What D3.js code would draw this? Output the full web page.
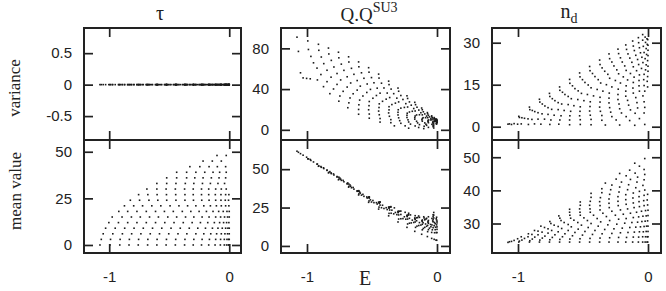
<!DOCTYPE html>
<html>
<head>
<meta charset="utf-8">
<script src="https://cdn.jsdelivr.net/npm/d3@7"></script>
<style>
  body { margin: 0; background: #fff; }
  svg { display: block; }
</style>
</head>
<body>
<svg id="chart" width="666" height="291"></svg>
<script>
// one row per seniority tau, one entry per eigenstate (energy E)
const tauLevels = [0, 3, 6, 9, 12, 15, 18, 21, 24, 27, 30, 33, 36, 39, 42, 45, 48];

const energies = [
  [-1.077,-0.994,-0.912,-0.835,-0.758,-0.680,-0.603,-0.526,-0.449,-0.372,-0.300,-0.231,-0.171,-0.118,-0.074,-0.041,-0.022,-0.008,-0.002],
  [-1.066,-0.989,-0.909,-0.832,-0.755,-0.678,-0.601,-0.523,-0.446,-0.369,-0.295,-0.226,-0.165,-0.113,-0.072,-0.041,-0.019,-0.006,0],
  [-1.050,-0.970,-0.890,-0.813,-0.736,-0.658,-0.581,-0.504,-0.427,-0.353,-0.278,-0.212,-0.154,-0.105,-0.066,-0.036,-0.014,0],
  [-1.030,-0.950,-0.871,-0.793,-0.716,-0.639,-0.562,-0.485,-0.408,-0.333,-0.262,-0.198,-0.140,-0.094,-0.058,-0.030,-0.011,0],
  [-1.003,-0.923,-0.846,-0.769,-0.691,-0.614,-0.537,-0.460,-0.383,-0.309,-0.240,-0.179,-0.124,-0.080,-0.047,-0.022,-0.003],
  [-0.975,-0.893,-0.815,-0.741,-0.664,-0.590,-0.512,-0.438,-0.364,-0.295,-0.226,-0.168,-0.113,-0.072,-0.039,-0.014,0],
  [-0.920,-0.846,-0.769,-0.691,-0.614,-0.540,-0.466,-0.391,-0.320,-0.251,-0.190,-0.135,-0.088,-0.050,-0.019,0],
  [-0.873,-0.796,-0.722,-0.645,-0.570,-0.493,-0.419,-0.347,-0.278,-0.212,-0.157,-0.107,-0.066,-0.030,-0.003],
  [-0.824,-0.747,-0.669,-0.595,-0.521,-0.444,-0.369,-0.298,-0.229,-0.168,-0.113,-0.069,-0.033,-0.006],
  [-0.755,-0.678,-0.601,-0.523,-0.446,-0.369,-0.300,-0.231,-0.171,-0.116,-0.069,-0.030,-0.003],
  [-0.686,-0.603,-0.526,-0.449,-0.372,-0.300,-0.231,-0.171,-0.113,-0.066,-0.025],
  [-0.603,-0.521,-0.444,-0.366,-0.295,-0.223,-0.157,-0.094,-0.039],
  [-0.521,-0.438,-0.355,-0.287,-0.218,-0.149,-0.085,-0.030],
  [-0.438,-0.355,-0.278,-0.204,-0.135,-0.080,-0.025],
  [-0.328,-0.245,-0.168,-0.099,-0.030],
  [-0.218,-0.141,-0.066],
  [-0.102,-0.025]
];

// tau is a good quantum number: its variance is zero everywhere
const tauVariance = 0;

const qqVariance = [
  [91.0,87.3,84.0,80.3,76.2,71.7,66.7,61.0,54.7,47.8,41.0,33.4,27.0,21.4,16.9,13.7,12.0,10.7,10.2],
  [77.0,78.9,78.1,74.5,70.7,66.6,61.9,56.6,50.8,44.4,37.9,30.8,24.7,19.7,15.7,12.9,11.1,10.0,9.5],
  [56.0,72.1,71.5,68.2,64.5,60.4,56.0,51.3,45.8,40.0,33.7,27.4,22.2,17.7,14.3,11.8,10.1,9.0],
  [51.0,65.8,65.0,61.7,58.4,54.5,50.6,46.2,41.1,35.5,29.8,24.2,19.4,15.6,12.7,10.7,9.3,8.5],
  [50.5,60.6,58.5,55.3,52.1,48.4,45.0,40.9,36.1,31.1,25.7,20.9,16.8,13.5,11.1,9.5,8.2],
  [50.1,54.3,51.7,49.0,46.0,42.9,39.7,36.0,31.7,27.4,22.4,18.5,14.7,11.9,9.8,8.4,7.5],
  [49.0,47.3,44.6,42.0,39.0,36.7,33.7,30.1,26.2,22.0,18.2,14.8,11.9,9.7,8.0,7.0],
  [42.4,40.1,37.8,35.4,33.2,31.0,28.0,24.8,21.3,17.5,14.6,11.9,9.7,7.9,6.7],
  [35.5,33.2,31.3,29.2,27.8,25.5,22.7,19.7,16.3,13.6,11.0,8.9,7.4,6.2],
  [28.1,26.5,24.6,23.7,21.9,19.6,17.2,14.3,12.1,9.9,8.0,6.5,5.6],
  [21.7,20.0,19.7,18.4,16.6,14.6,12.1,10.5,8.5,7.0,5.7],
  [15.3,15.5,14.8,13.3,11.8,9.8,8.4,6.8,5.4],
  [11.4,11.1,10.0,9.0,7.7,6.8,5.5,4.5],
  [7.6,7.0,6.4,5.6,5.1,4.4,3.8],
  [3.9,3.9,3.8,3.5,3.1],
  [1.6,2.3,2.4],
  [1.2,1.8]
];

const qqMean = [
  [61.7,56.7,51.9,47.6,43.1,38.3,33.2,28.4,24.0,19.6,15.6,12.1,9.5,7.6,6.1,4.9,4.3,3.8,3.7],
  [61.0,56.7,52.1,47.9,43.5,38.8,33.9,29.3,25.3,21.2,17.5,14.3,12.1,10.5,9.3,8.8,8.6,8.7,8.7],
  [60.1,55.7,51.2,47.1,42.7,37.9,33.1,28.6,24.9,21.3,17.7,14.8,12.9,11.4,10.6,10.5,10.6,10.8],
  [59.1,54.7,50.4,46.2,41.8,37.0,32.3,28.2,24.4,20.9,17.8,15.0,13.3,12.1,11.6,11.9,12.2,12.4],
  [57.8,53.3,49.2,44.9,40.4,35.6,31.2,27.3,23.7,20.4,17.4,15.3,13.6,12.8,12.5,13.2,13.7],
  [56.3,51.7,47.6,43.5,38.9,34.4,30.0,26.6,23.4,20.2,17.5,15.6,14.1,13.4,13.7,14.5,15.0],
  [53.3,49.4,45.2,40.7,35.9,31.9,28.2,24.9,21.8,19.0,16.8,15.2,14.3,14.0,15.3,16.1],
  [50.9,46.9,42.7,38.1,33.6,29.6,26.5,23.3,20.5,18.0,16.4,15.1,14.8,15.7,16.9],
  [48.4,44.2,39.7,35.1,31.2,27.8,24.6,21.7,19.1,17.2,15.9,15.4,16.3,17.7],
  [44.8,40.3,35.6,31.5,28.1,24.9,22.1,19.6,17.8,16.4,16.0,17.2,18.7],
  [41.0,35.9,31.8,28.5,25.3,22.5,20.0,18.2,16.9,16.6,18.2],
  [36.0,31.8,28.5,25.4,22.6,20.1,18.3,17.0,17.9],
  [31.9,28.4,25.3,22.6,20.3,18.5,17.5,19.1],
  [28.7,25.6,22.7,20.2,18.6,18.0,20.1],
  [24.8,21.9,19.7,18.2,20.3],
  [21.3,19.5,19.0],
  [19.0,21.8]
];

const ndVariance = [
  [0.9,3.7,7.0,9.8,11.9,14.2,16.9,19.2,21.5,23.8,26.0,27.7,29.2,30.6,31.8,32.9,32.0,31.4,31.1],
  [1.0,3.3,6.1,8.8,10.8,13.0,15.5,17.8,20.0,22.2,24.3,26.1,27.6,28.8,30.0,30.9,30.1,29.4,29.1],
  [0.8,3.2,5.8,8.1,10.0,12.3,14.6,16.8,19.0,21.0,23.1,24.6,26.0,27.2,28.2,28.7,27.9,27.3],
  [1.1,3.0,5.4,7.4,9.3,11.5,13.6,15.8,17.9,19.8,21.7,23.1,24.5,25.5,26.4,26.5,25.8,25.4],
  [0.9,2.8,5.0,6.8,8.6,10.8,12.8,14.9,16.8,18.7,20.3,21.7,23.0,24.0,24.8,24.3,23.6],
  [1.0,2.6,4.6,6.2,8.1,10.0,11.9,13.9,15.6,17.3,18.9,20.1,21.4,22.2,22.9,22.1,21.6],
  [0.8,2.7,4.4,6.1,7.9,9.7,11.5,13.3,15.0,16.5,17.8,19.0,20.0,20.8,20.3,19.8],
  [1.0,2.7,4.1,5.8,7.5,9.3,11.0,12.7,14.2,15.6,16.7,17.7,18.5,18.7,17.9],
  [0.9,2.4,3.9,5.5,7.1,8.9,10.5,12.0,13.4,14.6,15.8,16.5,16.8,16.2],
  [0.8,2.4,3.9,5.5,7.2,8.8,10.2,11.5,12.7,13.8,14.6,14.7,14.2],
  [0.9,2.4,3.9,5.6,7.0,8.5,9.7,10.9,12.0,12.7,12.7],
  [0.7,2.5,4.1,5.5,6.8,8.1,9.4,10.4,11.0],
  [0.8,2.6,4.0,5.2,6.4,7.7,8.6,8.9],
  [0.7,2.3,3.6,4.9,6.0,6.7,6.9],
  [0.6,2.4,3.6,4.8,4.9],
  [0.6,2.2,2.9],
  [0.5,0.8]
];

const ndMean = [
  [24.3,24.4,24.4,24.4,24.4,24.4,24.4,24.4,24.4,24.4,24.4,24.4,24.4,24.4,24.4,24.4,24.4,24.4,24.4],
  [24.5,24.7,24.8,25.0,25.1,25.2,25.3,25.4,25.5,25.6,25.7,25.8,25.8,25.9,25.9,26.0,26.0,26.0,26.0],
  [24.6,25.0,25.3,25.6,25.8,26.0,26.3,26.5,26.7,26.9,27.0,27.2,27.3,27.4,27.5,27.5,27.6,27.6],
  [24.9,25.5,25.9,26.2,26.6,26.9,27.3,27.6,27.9,28.2,28.4,28.6,28.8,28.9,29.0,29.1,29.2,29.2],
  [25.4,26.0,26.6,27.1,27.5,27.9,28.3,28.8,29.2,29.6,29.8,30.1,30.3,30.4,30.6,30.7,30.8],
  [26.0,26.7,27.4,27.9,28.5,29.0,29.5,30.0,30.5,30.9,31.3,31.5,31.8,32.0,32.2,32.3,32.4],
  [26.9,27.7,28.4,29.1,29.7,30.3,30.9,31.5,32.1,32.5,32.8,33.1,33.4,33.7,33.9,34.0],
  [27.9,28.8,29.5,30.3,31.0,31.7,32.5,33.1,33.7,34.1,34.4,34.8,35.1,35.4,35.6],
  [29.2,30.0,30.9,31.6,32.5,33.4,34.1,34.8,35.4,35.8,36.2,36.6,36.9,37.1],
  [30.6,31.6,32.5,33.4,34.4,35.4,36.1,36.7,37.2,37.7,38.1,38.5,38.8],
  [32.3,33.4,34.4,35.5,36.6,37.4,38.1,38.7,39.2,39.7,40.1],
  [34.3,35.5,36.7,37.8,38.8,39.5,40.2,40.8,41.5],
  [36.5,37.9,39.3,40.2,41.0,41.7,42.5,43.2],
  [39.1,40.5,41.6,42.5,43.3,44.0,44.8],
  [42.2,43.4,44.4,45.2,46.3],
  [45.1,46.1,47.3],
  [48.2,49.6]
];

const xTicks = [-1, 0];

// flatten into one record per eigenstate
const states = [];
tauLevels.forEach((tau, r) => {
  energies[r].forEach((e, k) => {
    states.push({
      e: e,
      tau: tau,
      tauVar: tauVariance,
      qqVar: qqVariance[r][k],
      qqMean: qqMean[r][k],
      ndVar: ndVariance[r][k],
      ndMean: ndMean[r][k]
    });
  });
});

const columns = [
  { x0: 84, x1: 241, domain: [-1.21, 0.098] },
  { x0: 281, x1: 450, domain: [-1.2, 0.1] },
  { x0: 492, x1: 661, domain: [-1.2, 0.1] }
];
const rows = [
  { y0: 28, y1: 140 },
  { y0: 140, y1: 253 }
];

const panels = [
  { col: 0, row: 0, key: "tauVar", domain: [-0.88, 0.9], ticks: [-0.5, 0, 0.5] },
  { col: 0, row: 1, key: "tau", domain: [-4.3, 56.3], ticks: [0, 25, 50] },
  { col: 1, row: 0, key: "qqVar", domain: [-10, 100], ticks: [0, 40, 80] },
  { col: 1, row: 1, key: "qqMean", domain: [-4.6, 69], ticks: [0, 25, 50] },
  { col: 2, row: 0, key: "ndVar", domain: [-4.75, 35.25], ticks: [0, 15, 30] },
  { col: 2, row: 1, key: "ndMean", domain: [21.1, 55.2], ticks: [30, 40, 50] }
];

const ink = "#222";
const fmt = d => (d < 0 ? "-" + Math.abs(d) : String(d));

const svg = d3.select("#chart");

panels.forEach((p, i) => {
  const c = columns[p.col], r = rows[p.row];
  const x = d3.scaleLinear().domain(c.domain).range([c.x0, c.x1]);
  const y = d3.scaleLinear().domain(p.domain).range([r.y1, r.y0]);

  const g = svg.append("g");

  g.append("clipPath").attr("id", "clip" + i)
    .append("rect")
    .attr("x", c.x0).attr("y", r.y0)
    .attr("width", c.x1 - c.x0).attr("height", r.y1 - r.y0);

  g.append("g")
    .attr("clip-path", `url(#clip${i})`)
    .selectAll("rect")
    .data(states)
    .join("rect")
    .attr("x", d => x(d.e) - 0.8)
    .attr("y", d => y(d[p.key]) - 0.8)
    .attr("width", 1.6)
    .attr("height", 1.6)
    .attr("fill", "#1a1a1a");

  const styleAxis = sel => {
    sel.select(".domain").remove();
    sel.selectAll(".tick line").attr("stroke", ink).attr("stroke-width", 1.7);
    sel.selectAll(".tick text")
      .attr("fill", ink)
      .style("font-family", "'Liberation Sans', Arial, sans-serif")
      .style("font-size", "15px");
  };

  g.append("g").attr("transform", `translate(${c.x0},0)`)
    .call(d3.axisLeft(y).tickValues(p.ticks).tickSize(-9).tickPadding(12).tickFormat(fmt))
    .call(styleAxis);
  g.append("g").attr("transform", `translate(${c.x1},0)`)
    .call(d3.axisRight(y).tickValues(p.ticks).tickSize(-9).tickFormat(""))
    .call(styleAxis);
  g.append("g").attr("transform", `translate(0,${r.y0})`)
    .call(d3.axisTop(x).tickValues(xTicks).tickSize(-9).tickFormat(""))
    .call(styleAxis);
  g.append("g").attr("transform", `translate(0,${r.y1})`)
    .call(d3.axisBottom(x).tickValues(xTicks).tickSize(-9).tickPadding(18)
      .tickFormat(p.row === 1 ? fmt : ""))
    .call(styleAxis);

  g.append("rect")
    .attr("x", c.x0).attr("y", r.y0)
    .attr("width", c.x1 - c.x0).attr("height", r.y1 - r.y0)
    .attr("fill", "none")
    .attr("stroke", ink)
    .attr("stroke-width", 2);
});

// titles and axis names
const serif = "'Liberation Serif', 'Times New Roman', serif";

svg.append("text")
  .attr("x", 160).attr("y", 20)
  .attr("text-anchor", "middle")
  .style("font-family", serif).style("font-size", "20px").attr("fill", ink)
  .text("τ");

const qq = svg.append("text")
  .attr("x", 369).attr("y", 21)
  .attr("text-anchor", "middle")
  .style("font-family", serif).style("font-size", "19px").attr("fill", ink);
qq.append("tspan").text("Q.Q");
qq.append("tspan").attr("dy", -9).style("font-size", "14px").text("SU3");

const nd = svg.append("text")
  .attr("x", 569).attr("y", 18)
  .attr("text-anchor", "middle")
  .style("font-family", serif).style("font-size", "20px").attr("fill", ink);
nd.append("tspan").text("n");
nd.append("tspan").attr("dy", 5).style("font-size", "14px").text("d");

svg.append("text")
  .attr("x", 365).attr("y", 285)
  .attr("text-anchor", "middle")
  .style("font-family", serif).style("font-size", "20px").attr("fill", ink)
  .text("E");

svg.append("text")
  .attr("transform", "translate(20,88) rotate(-90)")
  .attr("text-anchor", "middle")
  .style("font-family", serif).style("font-size", "17px").attr("fill", ink)
  .text("variance");

svg.append("text")
  .attr("transform", "translate(21,191) rotate(-90)")
  .attr("text-anchor", "middle")
  .style("font-family", serif).style("font-size", "17px").attr("fill", ink)
  .text("mean value");
</script>
</body>
</html>
